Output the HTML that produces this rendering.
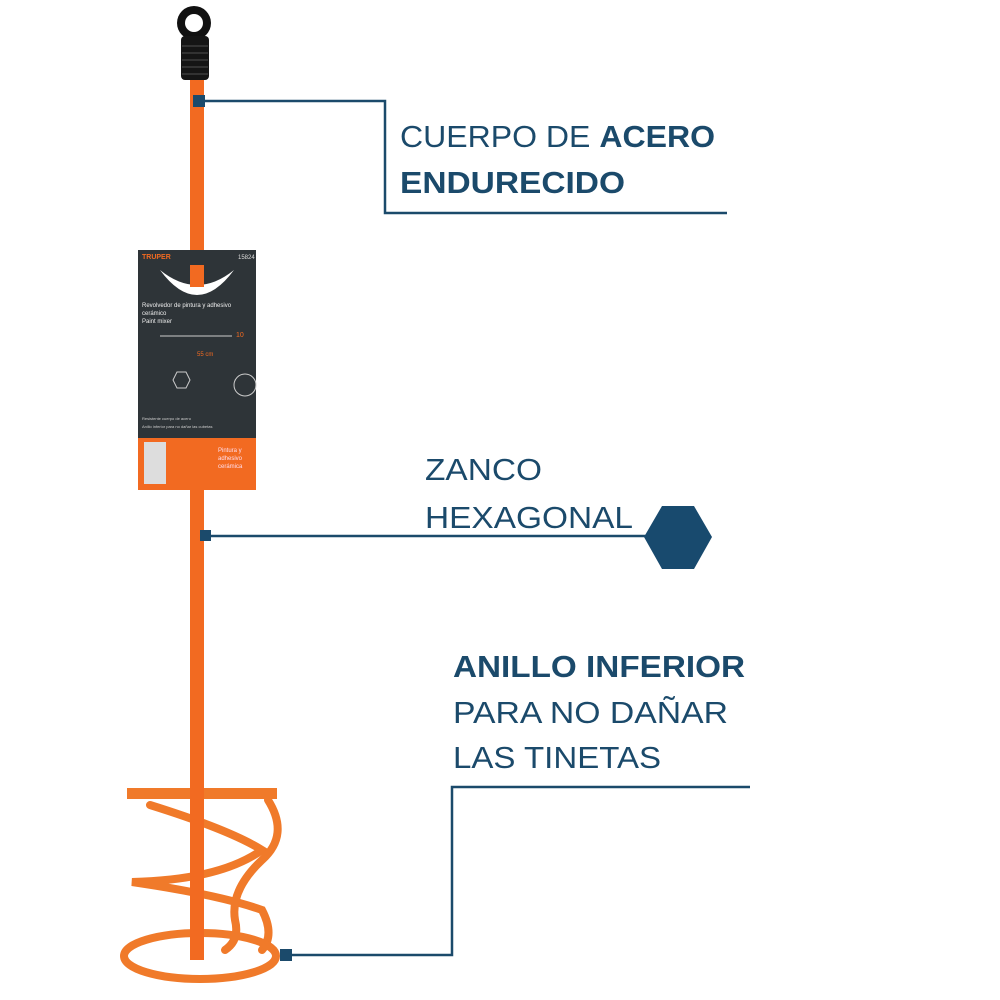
<!DOCTYPE html>
<html><head><meta charset="utf-8"><style>
html,body{margin:0;padding:0;background:#fff;}
svg{display:block;}
text{font-family:"Liberation Sans",sans-serif;fill:#1b4a6b;}
</style></head><body>
<svg width="1000" height="1000" viewBox="0 0 1000 1000" xmlns="http://www.w3.org/2000/svg">
<rect width="1000" height="1000" fill="#fff"/>
<!-- rod -->
<rect x="190" y="70" width="14" height="890" fill="#f26a21"/>
<!-- handle -->
<circle cx="194" cy="23" r="17" fill="#111"/>
<circle cx="194" cy="23" r="9" fill="#fff"/>
<rect x="181" y="36" width="28" height="44" rx="4" fill="#151515"/>
<g stroke="#444" stroke-width="1.2">
<line x1="182" y1="46" x2="208" y2="46"/><line x1="182" y1="53" x2="208" y2="53"/>
<line x1="182" y1="60" x2="208" y2="60"/><line x1="182" y1="67" x2="208" y2="67"/>
<line x1="182" y1="74" x2="208" y2="74"/>
</g>
<!-- card -->
<rect x="138" y="250" width="118" height="240" fill="#f26a21"/>
<rect x="138" y="250" width="118" height="188" fill="#2e3438"/>
<text x="142" y="259" font-size="7" style="fill:#f26a21" font-weight="bold">TRUPER</text>
<text x="238" y="259" font-size="6" style="fill:#ddd">15824</text>
<path d="M160 270 Q197 320 234 270 Q197 300 160 270Z" fill="#fff"/>
<rect x="190" y="265" width="14" height="22" fill="#f26a21"/>
<text x="142" y="307" font-size="6" style="fill:#eee">Revolvedor de pintura y adhesivo</text>
<text x="142" y="315" font-size="6" style="fill:#eee">cerámico</text>
<text x="142" y="323" font-size="6" style="fill:#eee">Paint mixer</text>
<line x1="160" y1="336" x2="232" y2="336" stroke="#ccc" stroke-width="1"/>
<text x="236" y="337" font-size="7" style="fill:#f26a21">10</text>
<text x="197" y="356" font-size="6" style="fill:#f26a21">55 cm</text>
<polygon points="177,372 186,372 190,380 186,388 177,388 173,380" fill="none" stroke="#ccc"/>
<circle cx="245" cy="385" r="11" fill="none" stroke="#ccc"/>
<text x="142" y="420" font-size="4" style="fill:#ccc">Resistente cuerpo de acero</text>
<text x="142" y="428" font-size="4" style="fill:#ccc">Anillo inferior para no dañar las cubetas</text>
<rect x="144" y="442" width="22" height="42" fill="#ddd"/>
<text x="218" y="452" font-size="6" style="fill:#fde">Pintura y</text>
<text x="218" y="460" font-size="6" style="fill:#fde">adhesivo</text>
<text x="218" y="468" font-size="6" style="fill:#fde">cerámica</text>
<rect x="190" y="458" width="14" height="40" fill="#f26a21"/>
<!-- mixer -->
<g fill="none" stroke="#f07a2a" stroke-width="8" stroke-linecap="round">
<path d="M150 805 Q230 830 262 850 Q220 880 132 882 Q220 895 262 910 Q275 935 262 950"/>
<path d="M268 800 Q290 835 262 860 Q230 890 235 920 Q240 940 225 950"/>
<ellipse cx="200" cy="956" rx="76" ry="23"/>
</g>
<rect x="127" y="788" width="150" height="11" fill="#f07a2a"/>
<rect x="190" y="780" width="14" height="180" fill="#f26a21"/>
<!-- connectors -->
<g fill="none" stroke="#1b4a6b" stroke-width="2.5">
<polyline points="200,101 385,101 385,213 727,213"/>
<polyline points="205,536 650,536"/>
<polyline points="285,955 452,955 452,787 750,787"/>
</g>
<rect x="193" y="95" width="12" height="12" fill="#1b4a6b"/>
<rect x="200" y="530" width="11" height="11" fill="#1b4a6b"/>
<rect x="280" y="949" width="12" height="12" fill="#1b4a6b"/>
<polygon points="644,537 662,506 694,506 712,537 694,569 662,569" fill="#184a6e"/>
<!-- labels -->
<text x="400" y="147" font-size="31" textLength="315" lengthAdjust="spacingAndGlyphs">CUERPO DE <tspan font-weight="bold">ACERO</tspan></text>
<text x="400" y="193" font-size="31" font-weight="bold" textLength="225" lengthAdjust="spacingAndGlyphs">ENDURECIDO</text>
<text x="425" y="480" font-size="31" textLength="117" lengthAdjust="spacingAndGlyphs">ZANCO</text>
<text x="425" y="528" font-size="31" textLength="208" lengthAdjust="spacingAndGlyphs">HEXAGONAL</text>
<text x="453" y="677" font-size="31" font-weight="bold" textLength="292" lengthAdjust="spacingAndGlyphs">ANILLO INFERIOR</text>
<text x="453" y="723" font-size="31" textLength="275" lengthAdjust="spacingAndGlyphs">PARA NO DAÑAR</text>
<text x="453" y="768" font-size="31" textLength="208" lengthAdjust="spacingAndGlyphs">LAS TINETAS</text>
</svg>
</body></html>
